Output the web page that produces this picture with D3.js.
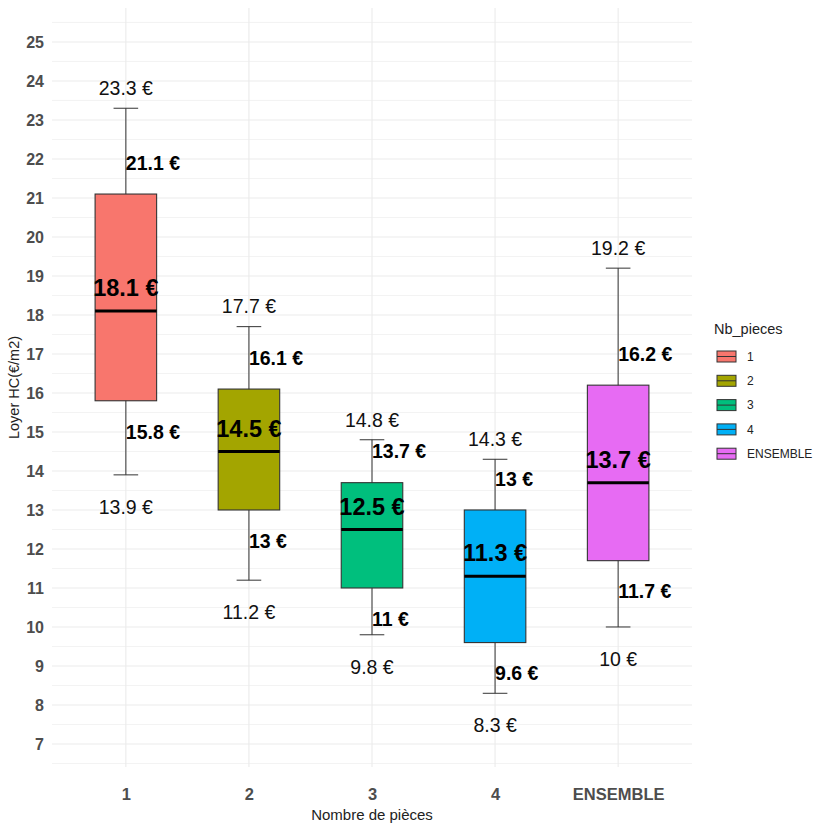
<!DOCTYPE html>
<html><head><meta charset="utf-8">
<script src="https://cdn.jsdelivr.net/npm/d3@7"></script>
<style>body{margin:0;background:#fff}svg{font-family:"Liberation Sans",Arial,sans-serif}</style>
</head><body><svg id="c" width="814" height="824"></svg>
<script>
const categories = ["1","2","3","4","ENSEMBLE"];
const minVals    = [13.9, 11.2, 9.8, 8.3, 10];
const q1Vals     = [15.8, 13, 11, 9.6, 11.7];
const medVals    = [18.1, 14.5, 12.5, 11.3, 13.7];
const q3Vals     = [21.1, 16.1, 13.7, 13, 16.2];
const maxVals    = [23.3, 17.7, 14.8, 14.3, 19.2];
const colors     = ["#F8766D","#A3A500","#00BF7D","#00B0F6","#E76BF3"];
const yTicks     = [7,8,9,10,11,12,13,14,15,16,17,18,19,20,21,22,23,24,25];

const fmt = v => String(v) + " €";
const svg = d3.select("#c");
const P = {l:52, r:692, t:8, b:767};
const xc = d3.scalePoint().domain(categories).range([P.l + 0.6*123.1, P.r - 0.6*123.1]);
const step = xc.step();
const y = d3.scaleLinear().domain([6.41, 25.87]).range([P.b, P.t]);

const g = svg.append("g");
for (let v = 6.5; v <= 25.5; v += 1) {
  g.append("line").attr("x1",P.l).attr("x2",P.r).attr("y1",y(v)).attr("y2",y(v))
   .attr("stroke","#f3f3f3").attr("stroke-width",1);
}
yTicks.forEach(v => g.append("line").attr("x1",P.l).attr("x2",P.r).attr("y1",y(v)).attr("y2",y(v))
   .attr("stroke","#ebebeb").attr("stroke-width",1.1));
categories.forEach(c => g.append("line").attr("x1",xc(c)).attr("x2",xc(c)).attr("y1",P.t).attr("y2",P.b)
   .attr("stroke","#ebebeb").attr("stroke-width",1.1));

const yAx = d3.axisLeft(y).tickValues(yTicks).tickSize(0).tickPadding(8);
const ya = svg.append("g").attr("transform",`translate(${P.l},0)`).call(yAx);
ya.select(".domain").remove();
ya.selectAll("text").attr("font-size",16).attr("font-weight","bold").attr("fill","#4d4d4d")
  .attr("font-family","Liberation Sans, Arial, sans-serif");
const xAx = d3.axisBottom(xc).tickSize(0).tickPadding(21);
const xa = svg.append("g").attr("transform",`translate(0,${P.b})`).call(xAx);
xa.select(".domain").remove();
xa.selectAll("text").attr("font-size",16.5).attr("font-weight","bold").attr("fill","#4d4d4d")
  .attr("font-family","Liberation Sans, Arial, sans-serif");

svg.append("text").attr("x",(P.l+P.r)/2).attr("y",820).attr("text-anchor","middle")
  .attr("font-size",15).attr("fill","#222").text("Nombre de pièces");
svg.append("text").attr("transform",`translate(19,${(P.t+P.b)/2}) rotate(-90)`).attr("text-anchor","middle")
  .attr("font-size",14.5).attr("fill","#222").text("Loyer HC(€/m2)");

const bw = step*0.5, cw = step*0.2;
categories.forEach((c,i) => {
  const cx = xc(c);
  svg.append("line").attr("x1",cx).attr("x2",cx).attr("y1",y(minVals[i])).attr("y2",y(maxVals[i]))
    .attr("stroke","#333").attr("stroke-width",1);
  [minVals[i], maxVals[i]].forEach(v => svg.append("line").attr("x1",cx-cw/2).attr("x2",cx+cw/2)
    .attr("y1",y(v)).attr("y2",y(v)).attr("stroke","#333").attr("stroke-width",1));
  svg.append("rect").attr("x",cx-bw/2).attr("width",bw).attr("y",y(q3Vals[i]))
    .attr("height",y(q1Vals[i])-y(q3Vals[i])).attr("fill",colors[i]).attr("stroke","#333").attr("stroke-width",1.1);
  svg.append("line").attr("x1",cx-bw/2).attr("x2",cx+bw/2).attr("y1",y(medVals[i])).attr("y2",y(medVals[i]))
    .attr("stroke","#000").attr("stroke-width",3);
  svg.append("text").attr("x",cx).attr("y",y(maxVals[i])-20).attr("dy","0.35em").attr("text-anchor","middle")
    .attr("font-size",19.5).attr("fill","#111").text(fmt(maxVals[i]));
  svg.append("text").attr("x",cx).attr("y",y(minVals[i])+32).attr("dy","0.35em").attr("text-anchor","middle")
    .attr("font-size",19.5).attr("fill","#111").text(fmt(minVals[i]));
  svg.append("text").attr("x",cx).attr("y",y(q3Vals[i])-31).attr("dy","0.35em").attr("text-anchor","start")
    .attr("font-size",19.5).attr("font-weight","bold").attr("fill","#000").text(fmt(q3Vals[i]));
  svg.append("text").attr("x",cx).attr("y",y(q1Vals[i])+31).attr("dy","0.35em").attr("text-anchor","start")
    .attr("font-size",19.5).attr("font-weight","bold").attr("fill","#000").text(fmt(q1Vals[i]));
  svg.append("text").attr("x",cx).attr("y",y(medVals[i])-23).attr("dy","0.35em").attr("text-anchor","middle")
    .attr("font-size",23.5).attr("font-weight","bold").attr("fill","#000").text(fmt(medVals[i]));
});

const lg = svg.append("g");
lg.append("text").attr("x",714).attr("y",334).attr("font-size",14.5).attr("fill","#222").text("Nb_pieces");
categories.forEach((c,i) => {
  const yy = 356.5 + i*24.3;
  lg.append("rect").attr("x",717).attr("y",yy-5.5).attr("width",19).attr("height",11)
    .attr("fill",colors[i]).attr("stroke","#333").attr("stroke-width",1);
  lg.append("line").attr("x1",717).attr("x2",736).attr("y1",yy).attr("y2",yy).attr("stroke","#333").attr("stroke-width",1);
  lg.append("text").attr("x",747).attr("y",yy).attr("dy","0.35em").attr("font-size",12)
    .attr("fill","#222").text(c);
});
</script></body></html>
